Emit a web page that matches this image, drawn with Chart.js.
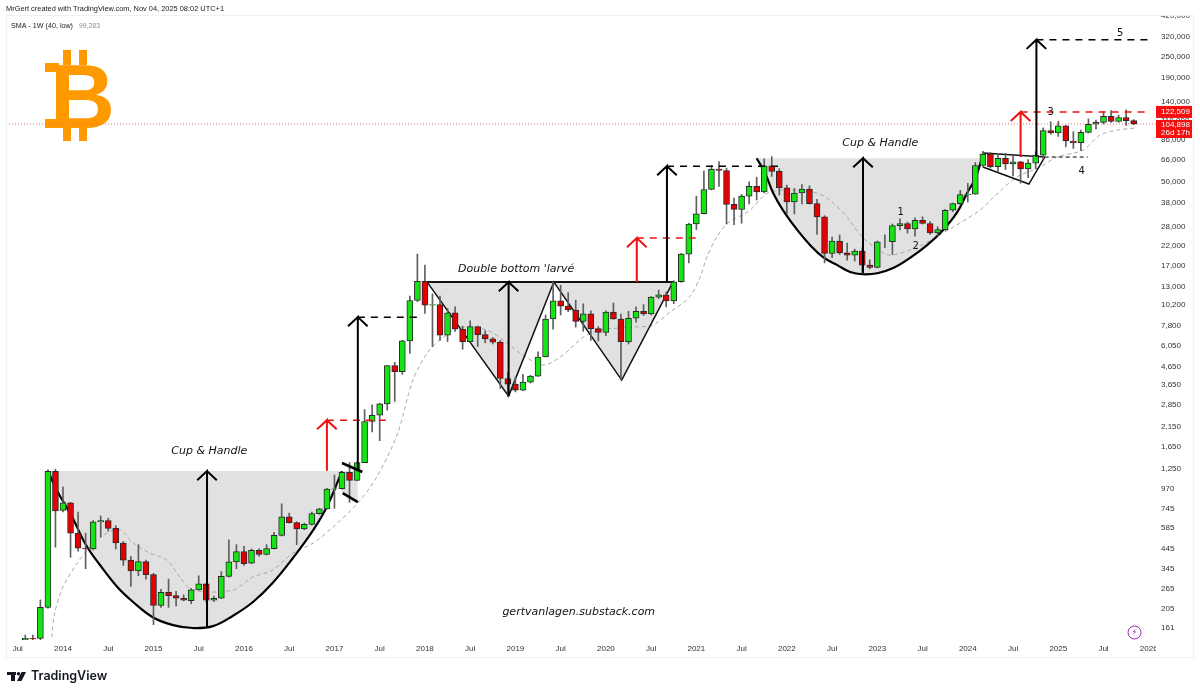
<!DOCTYPE html>
<html>
<head>
<meta charset="utf-8">
<title>BTC 1M</title>
<script src="https://cdn.jsdelivr.net/npm/chart.js@4"></script>
<style>
  html, body { margin: 0; padding: 0; background: #fff; }
  canvas { display: block; }
</style>
</head>
<body>
<canvas id="chart" width="1200" height="695"></canvas>
<script>
//
// DATEN
//
// monthly candles, index 0 = Aug 2013
const opens = [
  138,141,141,210,1205,
  730,805,545,450,445,630,640,580,480,385,335,378,
  320,215,255,244,236,229,263,284,230,236,313,377,
  430,370,437,415,447,530,672,624,575,610,700,745,
  960,965,1190,1075,1350,2290,2480,2875,4700,4340,6450,10850,
  13900,10200,10300,6950,9250,7500,6400,7750,7000,6620,6350,3980,
  3700,3420,3800,4100,5250,8550,10800,10100,9600,8300,9150,7550,
  7190,9350,8550,6400,8630,9450,9130,11330,11650,10780,13800,19700,
  29000,33100,45200,58800,57700,37300,35000,41500,47100,43800,61300,57000,
  46200,38500,43200,45500,37700,31800,19900,23300,20000,19400,20500,17100,
  16600,23100,23100,28400,29200,27200,30400,29200,25900,27000,34600,37700,
  42300,42600,61500,71300,60700,67500,62700,64600,58900,63400,70300,96400,
  93400,102400,84300,82500,94200,104600,107200,115800,108300,114000,109600
];
const highs = [
  147,147,231,1230,1240,
  986,810,715,545,640,680,660,600,490,405,470,385,
  325,265,302,258,247,268,315,286,243,333,500,470,
  460,445,445,470,550,795,705,630,620,715,750,970,
  1150,1200,1350,1360,2670,2840,2900,4700,4900,6500,11500,19700,
  17100,11800,11500,9800,10000,7800,8350,7800,7350,6750,6500,4300,
  4050,4200,4150,5600,9000,13800,13200,12000,10900,10400,9500,7750,
  9500,10500,9100,9450,10000,10300,11400,12400,12100,14000,19900,29300,
  41500,57200,61500,64800,59500,40500,42400,49800,52900,67000,69000,59000,
  47900,45800,48200,47400,39800,32300,24500,25200,22700,21000,21400,18300,
  23300,25200,29000,31000,29700,31400,31800,29900,28000,35000,38000,44700,
  48900,64000,73800,72700,71800,72000,70000,65000,66500,73600,99800,108000,
  108800,103000,95000,97000,112000,110500,123200,124500,117500,126000,111000
];
const lows = [
  136,136,134,208,455,
  715,400,432,345,440,520,560,445,360,275,315,302,
  168,210,210,214,228,220,262,225,226,235,310,345,
  360,368,405,412,445,525,620,470,570,605,695,745,
  750,960,810,1070,1350,2000,1790,2650,2970,4200,5500,10700,
  9200,6000,6500,6400,7300,5800,6300,6000,6300,6200,3500,3150,
  3350,3400,3750,4090,5250,7500,9000,9400,7700,7300,6500,6450,
  6900,8500,3900,6200,8200,8950,9000,11100,10000,10400,13700,17600,
  27000,33000,45000,47000,29000,28800,29300,37500,39500,43300,53500,42000,
  33000,33000,37500,37500,25400,17600,18800,19600,18200,18000,15500,16300,
  16500,21400,19600,26900,25800,24800,29000,25400,25000,26700,34000,37200,
  38500,42500,60800,59500,56500,58400,53800,49000,52600,58900,66800,92000,
  89500,78200,76600,74500,93500,98500,105000,107000,107300,103000,104000
];
const closes = [
  141,140,210,1205,725,
  805,545,450,445,630,640,580,480,385,335,378,320,
  215,255,244,236,230,263,284,230,236,313,377,430,
  368,437,415,447,530,672,624,575,610,700,745,960,
  965,1190,1075,1350,2290,2480,2875,4700,4340,6450,10850,13900,
  10200,10300,6950,9250,7500,6400,7750,7000,6620,6350,3980,3700,
  3420,3800,4100,5250,8550,10800,10100,9600,8300,9150,7550,7190,
  9350,8550,6400,8630,9450,9130,11330,11650,10780,13800,19700,29000,
  33100,45200,58800,57700,37300,35000,41500,47100,43800,61300,57000,46200,
  38500,43200,45500,37700,31800,19900,23300,20000,19400,20500,17100,16600,
  23100,23100,28400,29200,27200,30400,29200,25900,27000,34600,37700,42300,
  42600,61500,71300,60700,67500,62700,64600,58900,63400,70300,96400,93400,
  102400,84300,82500,94200,104600,107200,115800,108300,114000,109600,104898
];

// SMA 40 weeks of the low
const smaX = [3.5,3.9,5,6.9,8.6,10.8,12.6,14.3,16.5,18.8,20.5,22.2,27.5,30.2,32.8,35.5,38.2,40.8,44.1,46.6,49.3,51.4,53.3,55,57.7,61.2,63.4,65.6,68.7,71.3,74,76.2,80.6,83.2,85.5,88.1,89.5,90.4,91.7,93.2,96.1,98.4,101.4,105,106.7,109,111,113.8,115,118.3,121.7,126.6,128.3,131.5,134.6,136.8,140.3,142.5,144.8,147.2];
const smaY = [143,195,273,371,456,546,567,480,422,385,310,262,262,310,339,422,480,590,803,1121,1924,3900,5520,6525,7710,7420,6525,5520,4730,5380,6780,7420,7710,7910,9350,11340,14670,18960,24500,29400,34600,43100,44900,43100,39400,31700,24500,19960,19450,21540,25800,34600,40500,53000,60300,68600,75000,90900,97000,99600];

const yTicks = [161,205,265,345,445,585,745,970,1250,1650,2150,2850,3650,4650,6050,7800,10200,13000,17000,22000,28000,38000,50000,66000,86000,110000,140000,190000,250000,320000,420000];
const xTickPos = [-1,5,11,17,23,29,35,41,47,53,59,65,71,77,83,89,95,101,107,113,119,125,131,137,143,149];
const xTickLabels = ['Jul','2014','Jul','2015','Jul','2016','Jul','2017','Jul','2018','Jul','2019','Jul','2020','Jul','2021','Jul','2022','Jul','2023','Jul','2024','Jul','2025','Jul','2026'];

const lastPrice = 104898;
const targetPrice = 122509;
const countdown = '26d 17h';
const smaValue = '99,283';

// drawings on the chart, in month index / price
const cup1X = [3,4.3,6.2,8.05,9.9,12.2,14.3,16.9,19.6,22.2,24.9,27.5,30.2,32.8,35.5,38.2,40.1,42];
const cup1Y = [1211,925,672,468,362,273,225,185,167,161,165,188,225,287,396,568,780,1211];
const cup1Top = 1211;
const handleX = [42,44.1];
const handleY = [913,813];
const handleUpX = [42,44.7];
const handleUpY = [1342,1196];
const handleLowX = [42.1,44.1];
const handleLowY = [913,813];

const doubleX = [53.3,64.1,70.1,79.1,85.9];
const doubleY = [13750,3175,13750,3900,13750];
const doubleTop = 13750;

const cup2X = [97,98.1,99.2,100.5,102.4,104.1,105.8,107.7,109.4,111.1,113,115.1,117.3,119.6,121.7,123.6,124.9,126,127];
const cup2Y = [67600,55900,43100,34600,26800,22100,18960,17100,15640,15200,15400,16460,18700,22100,26800,33800,43100,52300,70400];
const cup2Top = 67600;

const flagUpX = [127,135.2];
const flagUpY = [72200,68600];
const flagLowX = [127,133.1,135.2];
const flagLowY = [60300,48500,68600];

const blackArrowX = [24.1,44.1,64.1,85.1,111.1,134.1];
const blackArrowBase = [161,1210,3175,13750,15400,68600];
const blackArrowTip = [1211,8760,13750,61000,67600,310000];
const redArrowX = [40,81.1,132];
const redArrowBase = [1216,13750,68600];
const redArrowTip = [2330,24200,122509];

const blackDashX = [[44.1,52.1],[85.1,100.2],[134.1,149.4]];
const blackDashY = [8760,61000,310000];
const redDashX = [[40,48.1],[81.1,89],[132,149.2]];
const redDashY = [2330,24200,122509];
const thinDashX = [135.2,140.9];
const thinDashY = 68600;

const noteText = ['Cup & Handle','Cup & Handle',"Double bottom 'larvé",'gertvanlagen.substack.com'];
const noteX = [24.4,113.4,65.1,73.4];
const noteY = [1566,82100,16250,198];
const countText = ['1','2','3','4','5'];
const countX = [116.1,118.1,136,140.1,145.2];
const countY = [33800,21800,122200,57200,337600];

//
// DATASETS
//
const GREEN = '#14e414';
const RED = '#e20000';

function pts(xs, ys) {
  return xs.map((x, i) => ({ x: x, y: ys[i] }));
}

function line(data, color, width, extra) {
  return Object.assign({
    type: 'line',
    data: data,
    borderColor: color,
    borderWidth: width,
    pointRadius: 0,
    tension: 0,
    fill: false,
    order: 1
  }, extra || {});
}

function arrow(x, base, tip, color) {
  // shaft and head, head is 1.3 months wide
  return line([
    { x: x, y: base }, { x: x, y: tip }, { x: x - 1.3, y: tip / 1.125 },
    { x: x, y: tip }, { x: x + 1.3, y: tip / 1.125 }
  ], color, 2);
}

const datasets = [];

// grey areas first
const GREY = '#e1e1e1';
datasets.push(line(pts(cup1X, cup1Y), 'transparent', 0, { tension: 0.4, fill: { target: { value: cup1Top } }, backgroundColor: GREY, order: 30 }));
datasets.push(line(pts(handleX, handleY), 'transparent', 0, { fill: { target: { value: cup1Top } }, backgroundColor: GREY, order: 30 }));
datasets.push(line(pts(doubleX, doubleY), 'transparent', 0, { fill: { target: { value: doubleTop } }, backgroundColor: GREY, order: 30 }));
datasets.push(line(pts(cup2X, cup2Y), 'transparent', 0, { tension: 0.4, fill: { target: { value: cup2Top } }, backgroundColor: GREY, order: 30 }));

// last price line
datasets.push(line([{ x: -2.56, y: lastPrice }, { x: 149.96, y: lastPrice }], '#ef6a6a', 1, { borderDash: [1, 2], order: 25 }));

// SMA
datasets.push(line(pts(smaX, smaY), '#a8a8a8', 1, { borderDash: [4, 3], tension: 0.3, order: 22 }));

// shapes under the candles
datasets.push(line(pts(cup1X, cup1Y), '#000', 2.2, { tension: 0.4, order: 20 }));
datasets.push(line(pts(cup2X, cup2Y), '#000', 2.2, { tension: 0.4, order: 20 }));
datasets.push(line(pts(doubleX, doubleY), '#111', 1.5, { order: 20 }));
datasets.push(line([{ x: doubleX[0], y: doubleTop }, { x: doubleX[4], y: doubleTop }], '#111', 2, { order: 20 }));
datasets.push(line(pts(flagUpX, flagUpY), '#111', 1.5, { order: 20 }));
datasets.push(line(pts(flagLowX, flagLowY), '#111', 1.5, { order: 20 }));

// candles: wick and body
const months = opens.map((_, i) => i);
datasets.push({
  type: 'bar',
  data: months.map(i => ({ x: i, y: [lows[i], highs[i]] })),
  backgroundColor: '#5f5f5f',
  barThickness: 1,
  grouped: false,
  order: 10
});
datasets.push({
  type: 'bar',
  data: months.map(i => ({ x: i, y: [opens[i], closes[i]] })),
  backgroundColor: months.map(i => closes[i] >= opens[i] ? GREEN : RED),
  borderColor: '#2a2a2a',
  borderWidth: 1,
  borderSkipped: false,
  barThickness: 6,
  grouped: false,
  order: 9
});

// handle strokes, arrows and dashes on top
datasets.push(line(pts(handleUpX, handleUpY), '#000', 2.6));
datasets.push(line(pts(handleLowX, handleLowY), '#000', 2.6));
blackArrowX.forEach((x, i) => datasets.push(arrow(x, blackArrowBase[i], blackArrowTip[i], '#000')));
redArrowX.forEach((x, i) => datasets.push(arrow(x, redArrowBase[i], redArrowTip[i], '#f01010')));
blackDashX.forEach((xs, i) => datasets.push(line(pts(xs, [blackDashY[i], blackDashY[i]]), '#000', 1.5, { borderDash: [7, 6] })));
redDashX.forEach((xs, i) => datasets.push(line(pts(xs, [redDashY[i], redDashY[i]]), '#f01010', 1.5, { borderDash: [7, 6] })));
datasets.push(line(pts(thinDashX, [thinDashY, thinDashY]), '#000', 1, { borderDash: [4, 3] }));

//
// TEXT UND RAHMEN
//
const TICK_FONT = '8px "Liberation Sans"';

const logoPlugin = {
  id: 'logo',
  beforeDatasetsDraw(chart) {
    const c = chart.ctx;
    c.save();
    c.fillStyle = '#ff9900';
    c.font = 'bold 90px "Liberation Sans"';
    c.textAlign = 'left';
    c.textBaseline = 'alphabetic';
    c.fillText('B', 50, 128);
    // bars and serifs of the coin sign
    c.fillRect(63, 50, 8, 15);
    c.fillRect(79, 50, 8, 15);
    c.fillRect(63, 126, 8, 15);
    c.fillRect(79, 126, 8, 15);
    c.fillRect(45, 63, 14, 9);
    c.fillRect(45, 119, 14, 9);
    c.restore();
  }
};

const chromePlugin = {
  id: 'chrome',
  afterDraw(chart) {
    const c = chart.ctx;
    const xs = chart.scales.x;
    const ys = chart.scales.y;
    c.save();

    // notes
    c.fillStyle = '#111';
    c.textAlign = 'center';
    c.textBaseline = 'middle';
    c.font = 'italic 11px "DejaVu Sans"';
    noteText.forEach((t, i) => c.fillText(t, xs.getPixelForValue(noteX[i]), ys.getPixelForValue(noteY[i])));
    c.font = '10px "DejaVu Sans"';
    countText.forEach((t, i) => c.fillText(t, xs.getPixelForValue(countX[i]), ys.getPixelForValue(countY[i])));

    // cut the labels at the frame
    c.fillStyle = '#fff';
    c.fillRect(0, 0, 1200, 15);
    c.fillRect(1156, 641, 5, 15);

    // frame
    c.strokeStyle = '#eef0f2';
    c.lineWidth = 1;
    c.strokeRect(6.5, 15.5, 1187, 642);

    // price boxes
    const boxY = ys.getPixelForValue(targetPrice);
    const lastY = ys.getPixelForValue(lastPrice);
    c.fillStyle = '#f50f0f';
    c.fillRect(1156, boxY - 6, 36, 12);
    c.fillRect(1156, lastY - 4, 36, 18);
    c.fillStyle = '#fff';
    c.font = TICK_FONT;
    c.textAlign = 'left';
    c.fillText(targetPrice.toLocaleString('en-US'), 1161, boxY);
    c.fillText(lastPrice.toLocaleString('en-US'), 1161, lastY + 0.5);
    c.fillText(countdown, 1161, lastY + 9);

    // header
    c.fillStyle = '#222';
    c.fillText('MrGert created with TradingView.com, Nov 04, 2025 08:02 UTC+1', 6, 9, 218);
    c.fillText('SMA - 1W (40, low)', 11, 26, 62);
    c.fillStyle = '#8a8a8a';
    c.fillText(smaValue, 79, 26, 21);

    // lightning badge
    c.strokeStyle = '#9c27b0';
    c.lineWidth = 1;
    c.beginPath();
    c.arc(1134.5, 632.5, 6.5, 0, Math.PI * 2);
    c.stroke();
    c.fillStyle = '#9c27b0';
    c.textAlign = 'center';
    c.font = '8px "DejaVu Sans"';
    c.fillText('\u26A1', 1134.5, 633);

    // TradingView logo
    c.fillStyle = '#131722';
    c.fillRect(7, 672, 9, 3);
    c.fillRect(11, 672, 4, 9);
    c.beginPath();
    c.arc(18.5, 673.7, 1.7, 0, Math.PI * 2);
    c.fill();
    c.beginPath();
    c.moveTo(21.5, 672);
    c.lineTo(26, 672);
    c.lineTo(21.5, 681);
    c.lineTo(17, 681);
    c.closePath();
    c.fill();
    c.textAlign = 'left';
    c.font = '600 12.5px Inter';
    c.fillText('TradingView', 31, 676.5);
    c.restore();
  }
};

//
// CHART
//
new Chart(document.getElementById('chart'), {
  data: { datasets: datasets },
  plugins: [logoPlugin, chromePlugin],
  options: {
    responsive: false,
    animation: false,
    layout: { padding: { left: 6, top: 16, right: 0, bottom: 0 } },
    plugins: { legend: { display: false }, tooltip: { enabled: false } },
    scales: {
      x: {
        type: 'linear',
        min: -2.56,
        max: 149.96,
        offset: false,
        grid: { display: false, drawTicks: false },
        border: { display: false },
        afterBuildTicks: s => { s.ticks = xTickPos.map(v => ({ value: v })); },
        afterFit: s => { s.height = 55; },
        ticks: {
          autoSkip: false,
          maxRotation: 0,
          padding: 4,
          color: '#333',
          font: { family: 'Liberation Sans', size: 8 },
          callback: v => xTickLabels[xTickPos.indexOf(v)]
        }
      },
      y: {
        type: 'logarithmic',
        position: 'right',
        min: 138,
        max: 420500,
        grid: { display: false, drawTicks: false },
        border: { display: false },
        afterBuildTicks: s => { s.ticks = yTicks.map(v => ({ value: v })); },
        afterFit: s => { s.width = 44; },
        ticks: {
          autoSkip: false,
          padding: 5,
          color: '#333',
          font: { family: 'Liberation Sans', size: 8 },
          callback: v => v.toLocaleString('en-US')
        }
      }
    }
  }
});
</script>
</body>
</html>
